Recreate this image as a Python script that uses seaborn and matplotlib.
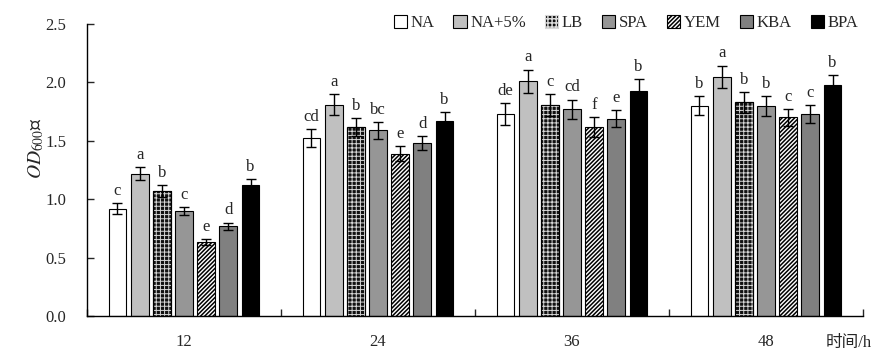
import numpy as np
import pandas as pd
import matplotlib
matplotlib.use("Agg")
import matplotlib.pyplot as plt
import matplotlib.patches as mpatches
import seaborn as sns

times = ["12", "24", "36", "48"]
media = ["NA", "NA+5%", "LB", "SPA", "YEM", "KBA", "BPA"]

# OD600 values per medium, one per time point
od = {
    "NA":    [0.92, 1.52, 1.73, 1.80],
    "NA+5%": [1.22, 1.81, 2.01, 2.05],
    "LB":    [1.07, 1.62, 1.81, 1.83],
    "SPA":   [0.90, 1.59, 1.77, 1.80],
    "YEM":   [0.63, 1.39, 1.62, 1.70],
    "KBA":   [0.77, 1.48, 1.69, 1.73],
    "BPA":   [1.12, 1.67, 1.93, 1.98],
}
sd = {
    "NA":    [0.045, 0.077, 0.094, 0.083],
    "NA+5%": [0.057, 0.090, 0.100, 0.094],
    "LB":    [0.050, 0.077, 0.094, 0.090],
    "SPA":   [0.034, 0.074, 0.083, 0.086],
    "YEM":   [0.026, 0.065, 0.086, 0.074],
    "KBA":   [0.030, 0.057, 0.074, 0.077],
    "BPA":   [0.050, 0.080, 0.097, 0.086],
}
letters = {
    "NA":    ["c", "cd", "de", "b"],
    "NA+5%": ["a", "a", "a", "a"],
    "LB":    ["b", "b", "c", "b"],
    "SPA":   ["c", "bc", "cd", "b"],
    "YEM":   ["e", "e", "f", "c"],
    "KBA":   ["d", "d", "e", "c"],
    "BPA":   ["b", "b", "b", "b"],
}
colors = {"NA": "white", "NA+5%": "#c0c0c0", "LB": "#111111", "SPA": "#969696",
          "YEM": "white", "KBA": "#808080", "BPA": "black"}

rows = []
for m in media:
    for i, t in enumerate(times):
        rows.append({"time": t, "medium": m, "od": od[m][i]})
df = pd.DataFrame(rows)

sns.set_style("ticks")
plt.rcParams["font.family"] = ["Liberation Serif", "Noto Sans CJK SC"]
plt.rcParams["mathtext.fontset"] = "stix"
plt.rcParams["font.size"] = 12
plt.rcParams["hatch.linewidth"] = 1.1


def hatch_lw(patch, lw):
    if hasattr(patch, "set_hatch_linewidth"):
        patch.set_hatch_linewidth(lw)


fig, ax = plt.subplots(figsize=(8.94, 3.62), dpi=100)
fig.subplots_adjust(left=87/894, right=863/894, bottom=1-316/362, top=1-24/362)

sns.barplot(data=df, x="time", y="od", hue="medium", order=times, hue_order=media,
            palette=colors, width=0.8, gap=0.2, edgecolor="black", linewidth=0.8,
            legend=False, ax=ax)

for m, cont in zip(media, ax.containers):
    xs, hs = [], []
    for i, p in enumerate(cont.patches):
        x = p.get_x() + p.get_width() / 2
        h = p.get_height()
        xs.append(x)
        hs.append(h)
        if m == "LB":
            grid = ax.bar(x, h, width=p.get_width(), facecolor="none", edgecolor="#d8d8d8",
                          hatch="++++", linewidth=0, zorder=p.get_zorder() + 0.1)
            hatch_lw(grid.patches[0], 0.7)
            ax.bar(x, h, width=p.get_width(), facecolor="none", edgecolor="black",
                   linewidth=0.8, zorder=p.get_zorder() + 0.2)
        elif m == "YEM":
            p.set_hatch("////////")
            hatch_lw(p, 1.1)
        ax.text(x, h + sd[m][i] + 0.035, letters[m][i], ha="center", va="bottom", fontsize=12)
    ax.errorbar(xs, hs, yerr=sd[m], fmt="none", ecolor="black", elinewidth=1,
                capsize=3.5, capthick=1, zorder=5)

ax.set_ylim(0, 2.5)
ax.set_xlim(-0.5, 3.5)
ax.set_yticks(np.arange(0, 2.51, 0.5))
ax.set_yticklabels([f"{v:.1f}" for v in np.arange(0, 2.51, 0.5)])
ax.tick_params(axis="y", direction="in", length=5, width=1, labelsize=12, pad=15)
ax.set_xticks(range(4))
ax.set_xticklabels(times)
ax.tick_params(axis="x", which="major", length=0, labelsize=12, pad=13)
ax.set_xticks([-0.5, 0.5, 1.5, 2.5, 3.5], minor=True)
ax.tick_params(axis="x", which="minor", direction="in", length=5, width=1)
ax.set_xlabel("")
ax.set_ylabel(r"$\mathit{OD}_{600}$值", fontsize=14)
ax.yaxis.set_label_coords(-0.053, 0.575)
for s in ["left", "bottom"]:
    ax.spines[s].set_linewidth(1)
    ax.spines[s].set_color("black")
sns.despine(ax=ax)

fig.text(826/894, 1-343/362, "时间/h", fontsize=12, va="center", ha="left")

handles = []
for m in media:
    if m == "LB":
        hp = mpatches.Patch(facecolor="#111111", edgecolor="#d8d8d8", hatch="++++", linewidth=0.8)
        hatch_lw(hp, 0.7)
    elif m == "YEM":
        hp = mpatches.Patch(facecolor="white", edgecolor="black", hatch="////////", linewidth=0.8)
        hatch_lw(hp, 1.1)
    else:
        hp = mpatches.Patch(facecolor=colors[m], edgecolor="black", linewidth=0.8)
    handles.append(hp)
fig.legend(handles, media, loc="upper right", bbox_to_anchor=(873/894, 1.0), ncol=7,
           frameon=False, handlelength=0.8, handleheight=0.8, handletextpad=0.2,
           columnspacing=1.15, fontsize=12)

fig.savefig("out.png", dpi=100)
